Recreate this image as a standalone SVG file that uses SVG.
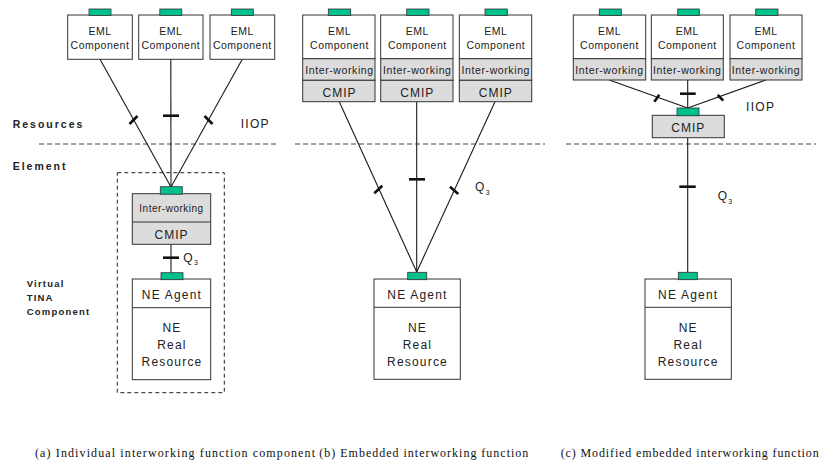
<svg xmlns="http://www.w3.org/2000/svg" width="821" height="464" viewBox="0 0 821 464">
<style>
.box{fill:#fff;stroke:#333;stroke-width:1}
.gray{fill:#dcdcdc;stroke:#333;stroke-width:1}
.tab{fill:#00c08c;stroke:#333;stroke-width:0.8}
.div{stroke:#333;stroke-width:1}
.ln{stroke:#1a1a1a;stroke-width:1.1;fill:none}
.tk{stroke:#111;stroke-width:2.6;fill:none}
.dash{stroke:#444;stroke-width:1;stroke-dasharray:5,3;fill:none}
.t{font-family:"Liberation Sans",Arial,sans-serif;fill:#222;text-anchor:middle}
.eml{font-size:10.5px;letter-spacing:0.5px}
.iw{font-size:10.5px;letter-spacing:0.6px}
.cm{font-size:12px;letter-spacing:1px}
.ne{font-size:12px;letter-spacing:1.2px}
.lbl{font-family:"Liberation Sans",Arial,sans-serif;fill:#222;font-weight:bold}
.q{font-family:"Liberation Sans",Arial,sans-serif;fill:#222;font-size:12px}
.qs{font-family:"Liberation Sans",Arial,sans-serif;fill:#222;font-size:7px}
.cap{font-family:"Liberation Serif","Times New Roman",serif;fill:#111;font-size:12px}
</style>

<!-- layer separators and labels -->
<g id="layers">
<line class="dash" x1="39" y1="144" x2="279" y2="144"/>
<line class="dash" x1="295" y1="144" x2="545" y2="144"/>
<line class="dash" x1="566" y1="144" x2="816" y2="144"/>
<text class="lbl" x="12.7" y="128" font-size="10.5" letter-spacing="2">Resources</text>
<text class="lbl" x="12.7" y="170" font-size="10.5" letter-spacing="2">Element</text>
<text class="lbl" x="26.7" y="287" font-size="9.5" letter-spacing="1.2">Virtual</text>
<text class="lbl" x="26.7" y="301" font-size="9.5" letter-spacing="1.2">TINA</text>
<text class="lbl" x="26.7" y="315" font-size="9.5" letter-spacing="1.2">Component</text>
</g>

<!-- connectors -->
<g id="connectors">
<!-- panel a -->
<line class="ln" x1="100" y1="59.3" x2="171" y2="187"/>
<line class="ln" x1="170.8" y1="59.3" x2="171" y2="187"/>
<line class="ln" x1="242.3" y1="59.3" x2="171" y2="187"/>
<line class="ln" x1="171" y1="244.3" x2="171" y2="273"/>
<line class="tk" x1="129.5" y1="124" x2="137.5" y2="116"/>
<line class="tk" x1="163" y1="115.7" x2="179" y2="115.7"/>
<line class="tk" x1="204.5" y1="116" x2="212.5" y2="124"/>
<line class="tk" x1="163" y1="257.7" x2="179" y2="257.7"/>
<text class="q" x="183.3" y="261.7">Q</text><text class="qs" x="194" y="265">3</text>
<text class="q" x="240.7" y="128" font-size="11" letter-spacing="1.3">IIOP</text>
<!-- panel b -->
<line class="ln" x1="339.3" y1="101.7" x2="416.7" y2="272"/>
<line class="ln" x1="416.7" y1="101.7" x2="416.7" y2="272"/>
<line class="ln" x1="495" y1="101.7" x2="416.7" y2="272"/>
<line class="tk" x1="374.3" y1="193.3" x2="382.3" y2="185.7"/>
<line class="tk" x1="409" y1="179.3" x2="425" y2="179.3"/>
<line class="tk" x1="450" y1="186.7" x2="458.3" y2="194"/>
<text class="q" x="475" y="191">Q</text><text class="qs" x="485.7" y="194.5">3</text>
<!-- panel c -->
<line class="ln" x1="609.3" y1="80" x2="687.7" y2="108"/>
<line class="ln" x1="687.7" y1="80" x2="687.7" y2="108"/>
<line class="ln" x1="765.7" y1="80" x2="687.7" y2="108"/>
<line class="ln" x1="687.7" y1="137.7" x2="687.7" y2="272.5"/>
<line class="tk" x1="654.3" y1="101.7" x2="659.3" y2="94.7"/>
<line class="tk" x1="680" y1="93.7" x2="695.7" y2="93.7"/>
<line class="tk" x1="717.7" y1="95" x2="723.3" y2="100.7"/>
<line class="tk" x1="679.3" y1="186.7" x2="695.7" y2="186.7"/>
<text class="q" x="746" y="111.3" font-size="11" letter-spacing="1.3">IIOP</text>
<text class="q" x="717.7" y="200">Q</text><text class="qs" x="728.3" y="203.5">3</text>
</g>

<!-- panel a nodes -->
<g id="a-eml1">
<rect class="box" x="67.7" y="15" width="64.6" height="44.3"/>
<rect class="tab" x="89" y="9" width="22" height="6.5"/>
<text class="t eml" x="100" y="35.3">EML</text>
<text class="t eml" x="100" y="49.3">Component</text>
</g>
<g id="a-eml2">
<rect class="box" x="138.7" y="15" width="64.3" height="44.3"/>
<rect class="tab" x="159.8" y="9" width="22" height="6.5"/>
<text class="t eml" x="170.8" y="35.3">EML</text>
<text class="t eml" x="170.8" y="49.3">Component</text>
</g>
<g id="a-eml3">
<rect class="box" x="210" y="15" width="64.7" height="44.3"/>
<rect class="tab" x="231.3" y="9" width="22" height="6.5"/>
<text class="t eml" x="242.3" y="35.3">EML</text>
<text class="t eml" x="242.3" y="49.3">Component</text>
</g>
<g id="a-vtc">
<rect x="117.3" y="172.7" width="107" height="220" fill="none" stroke="#222" stroke-width="1" stroke-dasharray="4,3"/>
</g>
<g id="a-iw">
<rect class="gray" x="132.3" y="193.7" width="78.4" height="50.6"/>
<line class="div" x1="132.3" y1="222" x2="210.7" y2="222"/>
<rect class="tab" x="160.3" y="186.7" width="22" height="7.5"/>
<text class="t" x="171.5" y="212.3" font-size="10" letter-spacing="0.5">Inter-working</text>
<text class="t cm" x="171.5" y="239">CMIP</text>
</g>
<g id="a-ne">
<rect class="box" x="132.3" y="279" width="78.4" height="100.7"/>
<line class="div" x1="132.3" y1="307.7" x2="210.7" y2="307.7"/>
<rect class="tab" x="161" y="272.7" width="22" height="7"/>
<text class="t ne" x="172" y="299">NE Agent</text>
<text class="t ne" x="172" y="332">NE</text>
<text class="t ne" x="172" y="349">Real</text>
<text class="t ne" x="172" y="366">Resource</text>
</g>

<!-- panel b nodes -->
<g id="b-eml1">
<rect class="box" x="302.7" y="15" width="72.3" height="43.7"/>
<rect class="gray" x="302.7" y="58.7" width="72.3" height="21.6"/>
<rect class="gray" x="302.7" y="80.3" width="72.3" height="21.4"/>
<rect class="tab" x="328.3" y="9" width="22.4" height="6.5"/>
<text class="t eml" x="339.5" y="35">EML</text>
<text class="t eml" x="339.5" y="49.3">Component</text>
<text class="t iw" x="339.5" y="74">Inter-working</text>
<text class="t cm" x="339.5" y="96.7">CMIP</text>
</g>
<g id="b-eml2">
<rect class="box" x="380.7" y="15" width="72.3" height="43.7"/>
<rect class="gray" x="380.7" y="58.7" width="72.3" height="21.6"/>
<rect class="gray" x="380.7" y="80.3" width="72.3" height="21.4"/>
<rect class="tab" x="406.7" y="9" width="22.3" height="6.5"/>
<text class="t eml" x="417.3" y="35">EML</text>
<text class="t eml" x="417.3" y="49.3">Component</text>
<text class="t iw" x="417.3" y="74">Inter-working</text>
<text class="t cm" x="417.3" y="96.7">CMIP</text>
</g>
<g id="b-eml3">
<rect class="box" x="459.3" y="15" width="72.4" height="43.7"/>
<rect class="gray" x="459.3" y="58.7" width="72.4" height="21.6"/>
<rect class="gray" x="459.3" y="80.3" width="72.4" height="21.4"/>
<rect class="tab" x="485" y="9" width="22.3" height="6.5"/>
<text class="t eml" x="495.8" y="35">EML</text>
<text class="t eml" x="495.8" y="49.3">Component</text>
<text class="t iw" x="495.8" y="74">Inter-working</text>
<text class="t cm" x="495.8" y="96.7">CMIP</text>
</g>
<g id="b-ne">
<rect class="box" x="374" y="279" width="86.3" height="100.3"/>
<line class="div" x1="374" y1="307.3" x2="460.3" y2="307.3"/>
<rect class="tab" x="407.7" y="272.3" width="19" height="7.4"/>
<text class="t ne" x="417.5" y="299">NE Agent</text>
<text class="t ne" x="417.5" y="332">NE</text>
<text class="t ne" x="417.5" y="349">Real</text>
<text class="t ne" x="417.5" y="366">Resource</text>
</g>

<!-- panel c nodes -->
<g id="c-eml1">
<rect class="box" x="573.3" y="15" width="72.4" height="43.7"/>
<rect class="gray" x="573.3" y="58.7" width="72.4" height="21.3"/>
<rect class="tab" x="599.3" y="9" width="22" height="6.5"/>
<text class="t eml" x="609.5" y="35">EML</text>
<text class="t eml" x="609.5" y="49.3">Component</text>
<text class="t iw" x="609.5" y="74">Inter-working</text>
</g>
<g id="c-eml2">
<rect class="box" x="651.3" y="15" width="72" height="43.7"/>
<rect class="gray" x="651.3" y="58.7" width="72" height="21.3"/>
<rect class="tab" x="677.7" y="9" width="21.6" height="6.5"/>
<text class="t eml" x="687.3" y="35">EML</text>
<text class="t eml" x="687.3" y="49.3">Component</text>
<text class="t iw" x="687.3" y="74">Inter-working</text>
</g>
<g id="c-eml3">
<rect class="box" x="730" y="15" width="72" height="43.7"/>
<rect class="gray" x="730" y="58.7" width="72" height="21.3"/>
<rect class="tab" x="755.7" y="9" width="22.3" height="6.5"/>
<text class="t eml" x="766" y="35">EML</text>
<text class="t eml" x="766" y="49.3">Component</text>
<text class="t iw" x="766" y="74">Inter-working</text>
</g>
<g id="c-cmip">
<rect class="gray" x="652.3" y="115.3" width="72" height="22.4"/>
<rect class="tab" x="677" y="108" width="22" height="7.8"/>
<text class="t cm" x="688.3" y="131.7">CMIP</text>
</g>
<g id="c-ne">
<rect class="box" x="645" y="279" width="86.3" height="100.3"/>
<line class="div" x1="645" y1="307.3" x2="731.3" y2="307.3"/>
<rect class="tab" x="678.3" y="272.3" width="19" height="7.4"/>
<text class="t ne" x="688.2" y="299">NE Agent</text>
<text class="t ne" x="688.2" y="332">NE</text>
<text class="t ne" x="688.2" y="349">Real</text>
<text class="t ne" x="688.2" y="366">Resource</text>
</g>

<!-- captions -->
<g id="captions">
<text class="cap" x="35" y="456.5" textLength="280" lengthAdjust="spacing">(a) Individual interworking function component</text>
<text class="cap" x="319.3" y="456.5" textLength="209" lengthAdjust="spacing">(b) Embedded interworking function</text>
<text class="cap" x="560.7" y="456.5" textLength="258" lengthAdjust="spacing">(c) Modified embedded interworking function</text>
</g>
</svg>
